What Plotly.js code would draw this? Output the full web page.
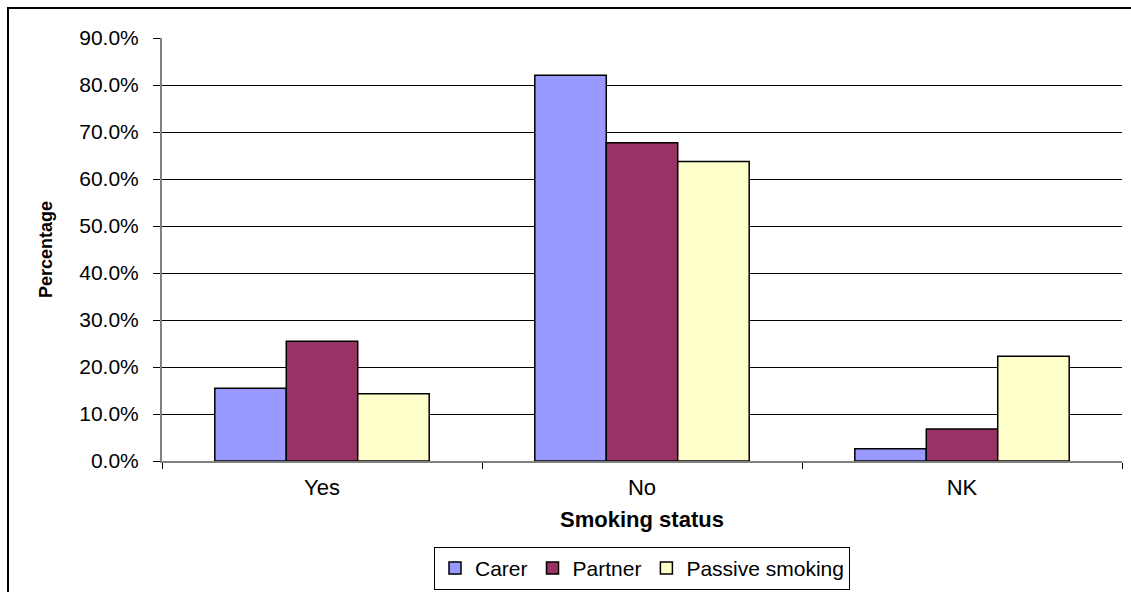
<!DOCTYPE html>
<html>
<head>
<meta charset="utf-8">
<script src="https://cdn.plot.ly/plotly-3.0.1.min.js"></script>
<style>
  html, body { margin: 0; padding: 0; background: #fff; }
  #wrap { position: relative; width: 1131px; height: 592px; overflow: hidden; }
  #chart { width: 1131px; height: 592px; }
  #frame { position: absolute; left: 7px; top: 7px; width: 1140px; height: 600px; border: 2px solid #000; pointer-events: none; }
</style>
</head>
<body>
<div id="wrap">
  <div id="chart"></div>
  <div id="frame"></div>
</div>
<script>
const categories = ["Yes", "No", "NK"];
const carer = [0.155, 0.821, 0.026];
const partner = [0.255, 0.677, 0.068];
const passive = [0.143, 0.637, 0.223];
const seriesNames = ["Carer", "Partner", "Passive smoking"];
const colors = ["#9999FF", "#993366", "#FFFFCC"];
const yTicks = [0, 0.1, 0.2, 0.3, 0.4, 0.5, 0.6, 0.7, 0.8, 0.9];

const font = "'Liberation Sans', Arial, sans-serif";
const traces = [carer, partner, passive].map((vals, i) => ({
  type: "bar",
  name: seriesNames[i],
  x: categories,
  y: vals,
  marker: { color: colors[i], line: { color: "#000", width: 1.5 } },
  hoverinfo: "skip"
}));

const layout = {
  width: 1131, height: 592,
  margin: { l: 162, r: 9, t: 38, b: 131, autoexpand: false },
  paper_bgcolor: "#fff", plot_bgcolor: "#fff",
  barmode: "group", bargap: 0.33, bargroupgap: 0,
  font: { family: font, size: 21, color: "#000" },
  xaxis: {
    type: "category",
    automargin: false,
    tickson: "boundaries",
    ticks: "outside", ticklen: 6, tickcolor: "#000", tickwidth: 1,
    showline: true, linecolor: "#808080", linewidth: 2,
    showgrid: false,
    tickfont: { family: font, size: 22 },
    ticklabelstandoff: 6,
    title: { text: "<b>Smoking status</b>", font: { family: font, size: 22 }, standoff: 12 }
  },
  yaxis: {
    range: [0, 0.9],
    automargin: false,
    tickvals: yTicks,
    tickformat: ".1%",
    ticks: "outside", ticklen: 7, tickcolor: "#000", tickwidth: 1,
    showline: true, linecolor: "#808080", linewidth: 2,
    showgrid: true, gridcolor: "#000", gridwidth: 1,
    zeroline: false,
    tickfont: { family: font, size: 21 },
    ticklabelstandoff: 10,
    title: { text: "<b>Percentage</b>", font: { family: font, size: 18 }, standoff: 22 }
  },
  showlegend: true,
  legend: {
    orientation: "h",
    x: 0.5, xanchor: "center",
    yref: "container",
    y: 0.0035, yanchor: "bottom",
    bordercolor: "#000", borderwidth: 1,
    font: { family: font, size: 21 },
    itemwidth: 30, tracegroupgap: 0
  }
};

Plotly.newPlot("chart", traces, layout, { displayModeBar: false, staticPlot: true });
</script>
</body>
</html>
